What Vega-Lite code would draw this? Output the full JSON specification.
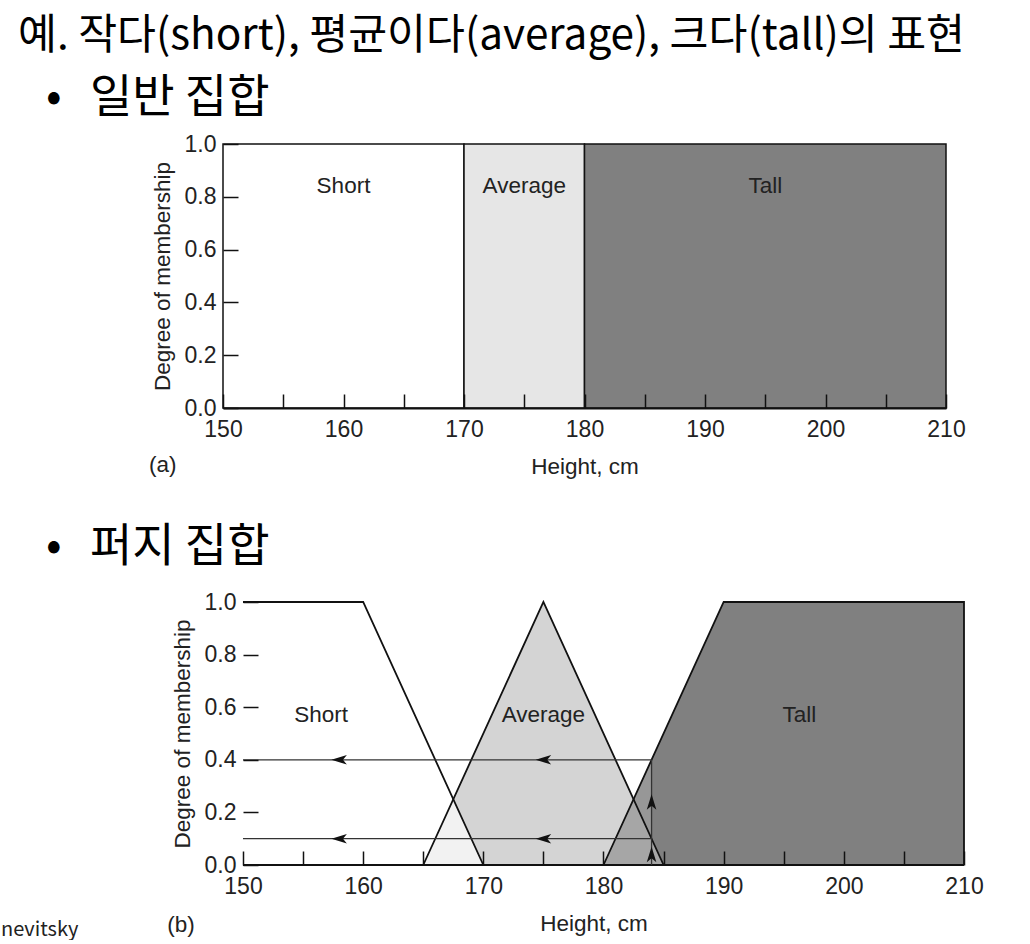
{
  "$schema": "https://vega.github.io/schema/vega-lite/v6.json",
  "background": "white",
  "padding": {"left": 0, "top": 14, "right": 0, "bottom": 0},
  "title": {"text": "예. 작다(short), 평균이다(average), 크다(tall)의 표현", "anchor": "start", "frame": "group", "dx": -205, "fontSize": 42.3, "offset": 17},
  "spacing": 46,
  "vconcat": [
    {
      "title": {"text": "•\u00a0\u00a0\u2006일반 집합", "anchor": "start", "frame": "group", "dx": -177, "fontSize": 46, "offset": 11},
      "width": 723,
      "height": 264,
      "layer": [
        {
          "data": {"values": [
            {"set": "Short", "start": 150, "end": 170, "lo": 0, "hi": 1},
            {"set": "Average", "start": 170, "end": 180, "lo": 0, "hi": 1},
            {"set": "Tall", "start": 180, "end": 210, "lo": 0, "hi": 1}
          ]},
          "mark": {"type": "rect", "stroke": "#111", "strokeWidth": 1.5},
          "encoding": {
            "x": {"field": "start", "type": "quantitative", "title": "Height, cm", "scale": {"domain": [150, 210], "nice": false, "zero": false},
              "axis": {"values": [150,155,160,165,170,175,180,185,190,195,200,205,210], "labelExpr": "datum.value % 10 === 0 ? datum.label : ''", "tickSize": -14, "labelPadding": 24, "titlePadding": 14, "zindex": 1}},
            "x2": {"field": "end"},
            "y": {"field": "lo", "type": "quantitative", "title": "Degree of membership", "scale": {"domain": [0, 1], "nice": false},
              "axis": {"values": [0, 0.2, 0.4, 0.6, 0.8, 1], "format": ".1f", "tickSize": -15, "labelPadding": 22, "titlePadding": 10, "domain": false, "zindex": 1}},
            "y2": {"field": "hi"},
            "fill": {"field": "set", "type": "nominal", "scale": {"domain": ["Short", "Average", "Tall"], "range": ["#ffffff", "#e6e6e6", "#808080"]}, "legend": null}
          }
        },
        {
          "data": {"values": [
            {"t": "Short", "x": 160, "y": 0.84},
            {"t": "Average", "x": 175, "y": 0.84},
            {"t": "Tall", "x": 195, "y": 0.84},
            {"t": "(a)", "x": 145, "y": -0.216}
          ]},
          "mark": {"type": "text", "fontSize": 22.5, "color": "#222", "font": "Liberation Sans"},
          "encoding": {
            "x": {"field": "x", "type": "quantitative", "title": "Height, cm"},
            "y": {"field": "y", "type": "quantitative", "title": "Degree of membership"},
            "text": {"field": "t"}
          }
        }
      ]
    },
    {
      "title": {"text": "•\u00a0\u00a0\u2006퍼지 집합", "anchor": "start", "frame": "group", "dx": -177, "fontSize": 46, "offset": 20},
      "width": 741,
      "height": 263,
      "layer": [
        {
          "data": {"values": [
            {"region": "Average", "h": 165, "m": 0},
            {"region": "Average", "h": 175, "m": 1},
            {"region": "Average", "h": 185, "m": 0},
            {"region": "Tall", "h": 180, "m": 0},
            {"region": "Tall", "h": 190, "m": 1},
            {"region": "Tall", "h": 210, "m": 1},
            {"region": "Tall below 184", "h": 180, "m": 0},
            {"region": "Tall below 184", "h": 184, "m": 0.4},
            {"region": "Short∩Average", "h": 165, "m": 0},
            {"region": "Short∩Average", "h": 167.5, "m": 0.25},
            {"region": "Short∩Average", "h": 170, "m": 0},
            {"region": "Average∩Tall", "h": 180, "m": 0},
            {"region": "Average∩Tall", "h": 182.5, "m": 0.25},
            {"region": "Average∩Tall", "h": 185, "m": 0}
          ]},
          "mark": {"type": "area", "opacity": 1},
          "encoding": {
            "x": {"field": "h", "type": "quantitative", "title": "Height, cm", "scale": {"domain": [148.336, 210], "nice": false, "zero": false},
              "axis": {"values": [150,155,160,165,170,175,180,185,190,195,200,205,210], "labelExpr": "datum.value % 10 === 0 ? datum.label : ''", "tickSize": -14, "labelPadding": 24, "titlePadding": 14, "domain": false, "zindex": 1}},
            "y": {"field": "m", "type": "quantitative", "title": "Degree of membership", "stack": null, "scale": {"domain": [0, 1], "nice": false},
              "axis": {"values": [0, 0.2, 0.4, 0.6, 0.8, 1], "format": ".1f", "tickSize": -15, "labelPadding": 22, "titlePadding": 10, "domain": false, "offset": -20, "zindex": 1}},
            "color": {"field": "region", "type": "nominal", "scale": {"domain": ["Average", "Tall", "Tall below 184", "Short∩Average", "Average∩Tall"], "range": ["#d4d4d4", "#808080", "#979797", "#f2f2f2", "#a6a6a6"]}, "legend": null}
          }
        },
        {
          "data": {"values": [
            {"set": "Short", "h": 150, "m": 1, "o": 1},
            {"set": "Short", "h": 160, "m": 1, "o": 2},
            {"set": "Short", "h": 170, "m": 0, "o": 3},
            {"set": "Average", "h": 165, "m": 0, "o": 1},
            {"set": "Average", "h": 175, "m": 1, "o": 2},
            {"set": "Average", "h": 185, "m": 0, "o": 3},
            {"set": "Tall", "h": 180, "m": 0, "o": 1},
            {"set": "Tall", "h": 190, "m": 1, "o": 2},
            {"set": "Tall", "h": 210, "m": 1, "o": 3},
            {"set": "Tall", "h": 210, "m": 0, "o": 4},
            {"set": "Baseline", "h": 150, "m": 0, "o": 1},
            {"set": "Baseline", "h": 210, "m": 0, "o": 2}
          ]},
          "mark": {"type": "line", "color": "#111", "strokeWidth": 1.8},
          "encoding": {
            "x": {"field": "h", "type": "quantitative", "title": "Height, cm"},
            "y": {"field": "m", "type": "quantitative", "title": "Degree of membership"},
            "detail": {"field": "set"},
            "order": {"field": "o"}
          }
        },
        {
          "data": {"values": [
            {"x1": 150, "x2": 184, "y1": 0.4, "y2": 0.4},
            {"x1": 150, "x2": 184, "y1": 0.1, "y2": 0.1},
            {"x1": 184, "x2": 184, "y1": 0, "y2": 0.4}
          ]},
          "mark": {"type": "rule", "color": "#333", "strokeWidth": 1.3},
          "encoding": {
            "x": {"field": "x1", "type": "quantitative", "title": "Height, cm"},
            "x2": {"field": "x2"},
            "y": {"field": "y1", "type": "quantitative", "title": "Degree of membership"},
            "y2": {"field": "y2"}
          }
        },
        {
          "data": {"values": [
            {"x": 158, "y": 0.4, "dir": "left"},
            {"x": 175, "y": 0.4, "dir": "left"},
            {"x": 158, "y": 0.1, "dir": "left"},
            {"x": 175, "y": 0.1, "dir": "left"},
            {"x": 184, "y": 0.04, "dir": "up"},
            {"x": 184, "y": 0.24, "dir": "up"}
          ]},
          "mark": {"type": "point", "filled": true, "color": "#111", "size": 240, "opacity": 1},
          "encoding": {
            "x": {"field": "x", "type": "quantitative", "title": "Height, cm"},
            "y": {"field": "y", "type": "quantitative", "title": "Degree of membership"},
            "shape": {"field": "dir", "type": "nominal", "scale": {"domain": ["left", "up"], "range": ["M-1,0L1,-0.62L0.5,0L1,0.62Z", "M0,-1L0.62,1L0,0.5L-0.62,1Z"]}, "legend": null}
          }
        },
        {
          "data": {"values": [
            {"t": "Short", "x": 156.5, "y": 0.57},
            {"t": "Average", "x": 175, "y": 0.57},
            {"t": "Tall", "x": 196.3, "y": 0.57},
            {"t": "(b)", "x": 144.84, "y": -0.228}
          ]},
          "mark": {"type": "text", "fontSize": 22.5, "color": "#222", "font": "Liberation Sans"},
          "encoding": {
            "x": {"field": "x", "type": "quantitative", "title": "Height, cm"},
            "y": {"field": "y", "type": "quantitative", "title": "Degree of membership"},
            "text": {"field": "t"}
          }
        },
        {
          "data": {"values": [
            {"t": "nevitsky", "x": 129.86, "y": -0.247}
          ]},
          "mark": {"type": "text", "fontSize": 20, "color": "#222", "font": "Noto Sans CJK KR", "align": "left"},
          "encoding": {
            "x": {"field": "x", "type": "quantitative", "title": "Height, cm"},
            "y": {"field": "y", "type": "quantitative", "title": "Degree of membership"},
            "text": {"field": "t"}
          }
        }
      ]
    }
  ],
  "config": {
    "view": {"stroke": null},
    "font": "Liberation Sans",
    "title": {"font": "Noto Sans CJK KR", "fontWeight": "normal", "color": "#000000"},
    "axis": {
      "labelFont": "Liberation Sans", "labelFontSize": 23, "labelColor": "#222",
      "titleFont": "Liberation Sans", "titleFontSize": 22.5, "titleFontWeight": "normal", "titleColor": "#222",
      "grid": false, "tickColor": "#111", "tickWidth": 1.5, "domainColor": "#111", "domainWidth": 2,
      "labelFlush": false, "labelOverlap": false
    }
  }
}
